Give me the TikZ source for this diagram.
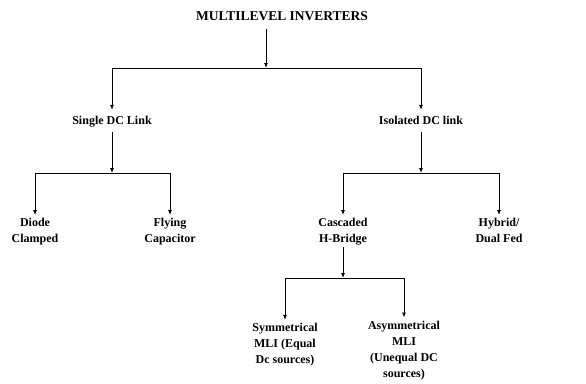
\documentclass[tikz,border=0pt]{standalone}
\usepackage{fontspec}
\setmainfont{Liberation Serif}
\usetikzlibrary{arrows.meta}

\begin{document}
\begin{tikzpicture}[x=1pt,y=-1pt,
  lbl/.style={anchor=north,inner sep=3pt,align=center,execute at begin node=\strut,
    font=\bfseries\fontsize{12}{16}\selectfont},
  arr/.style={line width=0.8pt,-{Latex[length=5pt,width=4pt]}}]
          \useasboundingbox (0,0) rectangle (586,383);
          \node [lbl,font=\bfseries\fontsize{13.5}{16}\selectfont] (mli) at (282,6.5) {MULTILEVEL INVERTERS};
          \node [lbl] (sdc) at (112,109.8) {Single DC Link};
          \node [lbl] (idc) at (421,109.8) {Isolated DC link};
          \node [lbl] (dcl) at (35,215) {Diode\\Clamped};
          \node [lbl] (fc) at (170,215) {Flying\\Capacitor};
          \node [lbl] (chb) at (343,215) {Cascaded\\H-Bridge};
          \node [lbl] (hyb) at (499,215) {Hybrid/\\Dual Fed};
          \node [lbl] (sym) at (285,319.8) {Symmetrical\\MLI (Equal\\Dc sources)};
          \node [lbl] (asym) at (404,317.5) {Asymmetrical\\MLI\\(Unequal DC\\sources)};
          \coordinate (b1) at (266,68);
          \coordinate (b2) at (112,173);
          \coordinate (b3) at (421,173);
          \coordinate (b4) at (343,278);
          \draw [arr] (b1 |- mli.south) -- (b1);
          \draw [arr] (b1) -| (sdc);
          \draw [arr] (b1) -| (idc);
          \draw [arr] (sdc) -- (b2);
          \draw [arr] (b2) -| (dcl);
          \draw [arr] (b2) -| (fc);
          \draw [arr] (idc) -- (b3);
          \draw [arr] (b3) -| (chb);
          \draw [arr] (b3) -| (hyb);
          \draw [arr,shorten <=-4pt] (chb.south) -- (b4);
          \draw [arr] (b4) -| (sym);
          \draw [arr] (b4) -| (asym);
\end{tikzpicture}
\end{document}
